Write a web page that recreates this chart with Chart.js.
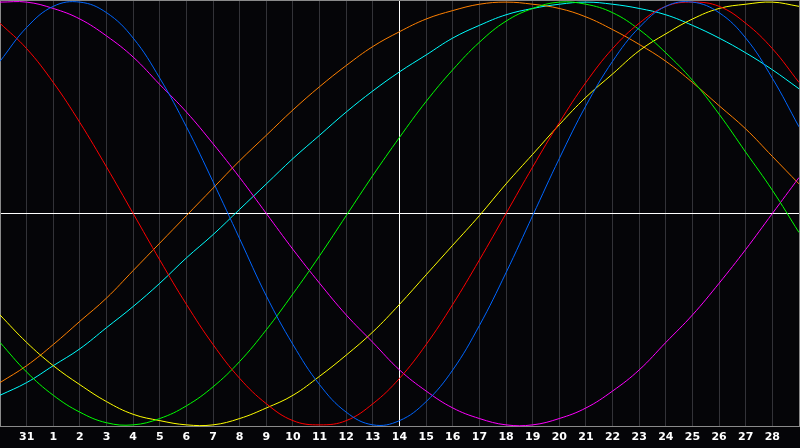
<!DOCTYPE html>
<html>
<head>
<meta charset="utf-8">
<script src="https://cdn.jsdelivr.net/npm/chart.js@4/dist/chart.umd.min.js"></script>
<style>
  html, body { margin: 0; padding: 0; background: #050508; }
  #wrap { width: 800px; height: 448px; }
</style>
</head>
<body>
<div id="wrap"><canvas id="chartBio" width="800" height="448"></canvas></div>
<script>
/* Biorritmo: 7 ciclos alrededor del día 14 */

// días del eje (el primero y el último no se rotulan)
const dias = ["30", "31", "1", "2", "3", "4", "5", "6", "7", "8", "9", "10", "11", "12", "13", "14",
  "15", "16", "17", "18", "19", "20", "21", "22", "23", "24", "25", "26", "27", "28", "1"];
const HOY = 15;

// valores en % (-100..100)
const fisico = [72, 88, 98, 100, 95, 83, 64, 41, 15, -12, -39, -62, -81, -94, -100, -98,
  -89, -74, -53, -28, -1, 26, 51, 72, 88, 98, 100, 95, 83, 64, 41];
const emocional = [90, 78, 62, 43, 22, 0, -22, -43, -62, -78, -90, -98, -100, -98, -90, -78,
  -62, -43, -22, 0, 22, 43, 62, 78, 90, 98, 100, 98, 90, 78, 62];
const intelectual = [-61, -75, -86, -94, -99, -100, -97, -91, -82, -70, -55, -38, -20, -1, 18, 36,
  53, 68, 81, 91, 97, 100, 99, 95, 87, 76, 63, 47, 29, 11, -9];
const intuitivo = [100, 100, 97, 92, 84, 74, 61, 48, 33, 17, 0, -17, -33, -48, -61, -74,
  -84, -92, -97, -100, -100, -97, -92, -84, -74, -61, -48, -33, -17, 0, 17];
const estetico = [-48, -61, -72, -81, -89, -95, -98, -100, -100, -97, -92, -86, -77, -67, -56, -43,
  -29, -15, -1, 14, 28, 42, 55, 66, 77, 85, 92, 97, 99, 100, 98];
const conciencia = [-80, -72, -62, -51, -40, -27, -14, -1, 12, 25, 37, 49, 60, 70, 79, 86,
  92, 96, 99, 100, 99, 97, 93, 87, 80, 72, 62, 51, 40, 27, 14];
const espiritual = [-86, -80, -72, -64, -54, -44, -33, -21, -10, 2, 14, 26, 37, 48, 58, 67,
  75, 83, 89, 94, 97, 99, 100, 99, 97, 94, 89, 83, 76, 68, 59];

const series = [
  { label: "Físico", data: fisico, color: "#0066ff" },
  { label: "Emocional", data: emocional, color: "#ff0000" },
  { label: "Intelectual", data: intelectual, color: "#00ff00" },
  { label: "Intuitivo", data: intuitivo, color: "#ff00ff" },
  { label: "Estético", data: estetico, color: "#ffff00" },
  { label: "Conciencia", data: conciencia, color: "#ff8000" },
  { label: "Espiritual", data: espiritual, color: "#00ffff" },
];

const fondo = {
  id: "fondo",
  beforeDraw(chart) {
    const c = chart.ctx;
    c.save();
    c.fillStyle = "#050508";
    c.fillRect(0, 0, chart.width, chart.height);
    c.restore();
  },
};

new Chart(document.getElementById("chartBio"), {
  type: "line",
  data: {
    labels: dias,
    datasets: series.map((s) => ({
      label: s.label,
      data: s.data,
      borderColor: s.color,
      borderWidth: 1,
      pointRadius: 0,
      tension: 0.4,
      fill: false,
    })),
  },
  options: {
    responsive: false,
    animation: false,
    layout: { autoPadding: false, padding: { left: 0, right: 1, top: 0, bottom: 0 } },
    plugins: { legend: { display: false }, tooltip: { enabled: false } },
    scales: {
      x: {
        type: "category",
        offset: false,
        // sin margen lateral: el área llega a los bordes
        afterFit: (s) => { s.paddingLeft = 0; s.paddingRight = 0; },
        grid: {
          drawTicks: false,
          color: (c) => c.index === HOY ? "#ffffff" : (c.index === 0 || c.index === dias.length - 1) ? "#8a8a8a" : "#333338",
        },
        border: { color: "#8a8a8a" },
        ticks: {
          autoSkip: false,
          maxRotation: 0,
          padding: 6,
          color: "#ffffff",
          font: { family: "DejaVu Sans", size: 11, weight: "bold", lineHeight: 0.82 },
          callback: (v, i) => (i === 0 || i === dias.length - 1) ? "" : dias[i],
        },
      },
      y: {
        min: -101,
        max: 101,
        afterBuildTicks: (scale) => { scale.ticks = [{ value: -101 }, { value: 0 }, { value: 101 }]; },
        grid: {
          drawTicks: false,
          color: (c) => c.tick && c.tick.value === 0 ? "#ffffff" : "#8a8a8a",
        },
        border: { display: true, color: "#8a8a8a" },
        ticks: { display: false },
      },
    },
  },
  plugins: [fondo],
});
</script>
</body>
</html>
